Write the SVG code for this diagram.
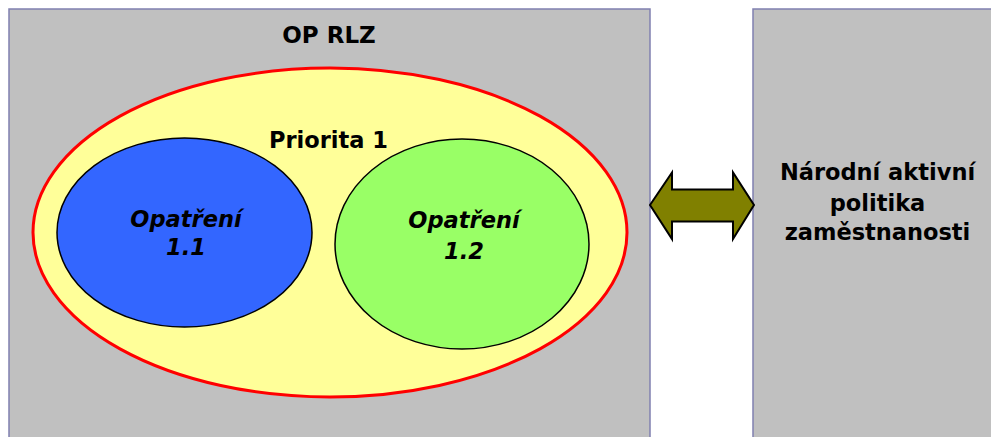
<svg xmlns="http://www.w3.org/2000/svg" width="991" height="437" viewBox="0 0 991 437">
<style>
.box{fill:#c0c0c0;stroke:#8080b0;stroke-width:1.5}
.t{font-family:"DejaVu Sans","Liberation Sans",sans-serif;font-weight:bold;font-size:22.5px;fill:#000;text-anchor:middle}
.it{font-style:italic}
</style>
<rect width="991" height="437" fill="#fff"/>
<g id="op-rlz">
<rect class="box" x="9" y="9" width="641" height="440"/>
<text class="t" x="329" y="43" style="font-size:23px">OP RLZ</text>
</g>
<g id="priorita1">
<ellipse cx="330" cy="232.5" rx="297" ry="164.5" fill="#ffff99" stroke="#ff0000" stroke-width="3"/>
<text class="t" x="328.5" y="148">Priorita 1</text>
</g>
<g id="opatreni11">
<ellipse cx="184.5" cy="232.5" rx="127.5" ry="94.5" fill="#3366ff" stroke="#000" stroke-width="1.5"/>
<text class="t it" x="186" y="227">Opatření</text>
<text class="t it" x="186" y="255">1.1</text>
</g>
<g id="opatreni12">
<ellipse cx="462" cy="244" rx="127" ry="105" fill="#99ff66" stroke="#000" stroke-width="1.5"/>
<text class="t it" x="464" y="228">Opatření</text>
<text class="t it" x="464" y="259">1.2</text>
</g>
<g id="narodni">
<rect class="box" x="753" y="9" width="250" height="440"/>
<text class="t" x="877.5" y="180">Národní aktivní</text>
<text class="t" x="877.5" y="211">politika</text>
<text class="t" x="877.5" y="240">zaměstnanosti</text>
</g>
<g id="connectors">
<polygon points="650,205 672,172.5 672,189.5 733,189.5 733,172.5 754,205 733,239 733,221.5 672,221.5 672,239" fill="#808000" stroke="#000" stroke-width="2" stroke-linejoin="miter"/>
</g>
</svg>
